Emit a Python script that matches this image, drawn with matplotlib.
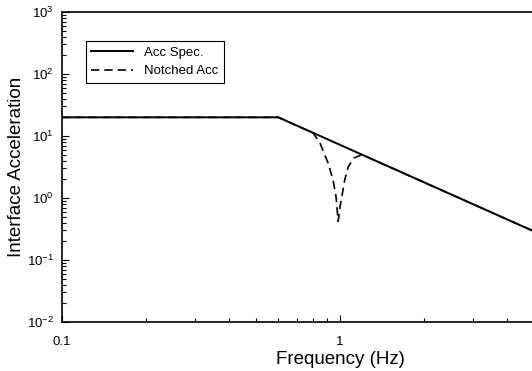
import numpy as np
import matplotlib
import matplotlib.pyplot as plt
from matplotlib.ticker import LogLocator

matplotlib.use('Agg')
plt.rcParams['font.family'] = ['Liberation Sans', 'DejaVu Sans']

# acceleration spec: flat, then -2 slope from the knee
spec_freq = [0.1, 0.6, 10.0]
spec_acc  = [20.0, 20.0, 0.072]

# notched spec
notch_freq = [0.1, 0.6, 0.80, 0.847, 0.906, 0.944, 0.968, 0.985,
              1.0, 1.04, 1.07, 1.12, 1.2, 10.0]
notch_acc  = [20.0, 20.0, 11.2, 7.7, 3.67, 1.95, 1.04, 0.42,
              0.72, 1.95, 3.16, 4.4, 5.0, 0.072]

x_ticks  = [0.1, 1, 10]
x_labels = ['0.1', '1', '']   # 10 Hz lies past the right edge of the picture
y_lim    = (1e-2, 1e3)

fig = plt.figure(figsize=(5.32, 3.71), dpi=100)
# axes run to 10 Hz, the right part falls outside the picture
ax = fig.add_axes([62 / 532, 1 - 322 / 371, 556 / 532, 310 / 371])

ax.plot(spec_freq, spec_acc, color='black', lw=1.4, label='Acc Spec.')
ax.plot(notch_freq, notch_acc, color='black', lw=1.2, ls=(0, (5, 3)),
        label='Notched Acc')

ax.set_xscale('log')
ax.set_yscale('log')
ax.set_xlim(0.1, 10)
ax.set_ylim(*y_lim)

ax.set_xticks(x_ticks)
ax.set_xticklabels(x_labels)
ax.yaxis.set_major_locator(LogLocator(base=10, numticks=10))
ax.yaxis.set_minor_locator(LogLocator(base=10, subs=np.arange(2, 10), numticks=20))

ax.tick_params(which='both', direction='in', top=False, right=False,
               labelsize=9.5, width=0.8)
ax.tick_params(which='major', length=5)
ax.tick_params(which='minor', length=3)
ax.tick_params(axis='x', pad=10)
ax.tick_params(axis='y', pad=6)
for s in ax.spines.values():
    s.set_linewidth(1.2)

ax.set_xlabel('Frequency (Hz)', fontsize=13.5, labelpad=2)
ax.set_ylabel('Interface Acceleration', fontsize=13.5, labelpad=1)

leg = ax.legend(loc='upper left', bbox_to_anchor=(0.043, 0.906),
                borderaxespad=0, fancybox=False, edgecolor='black',
                fontsize=9.5, handlelength=3.2, framealpha=1)
leg.get_frame().set_linewidth(0.8)

fig.savefig('out.png', dpi=100)
